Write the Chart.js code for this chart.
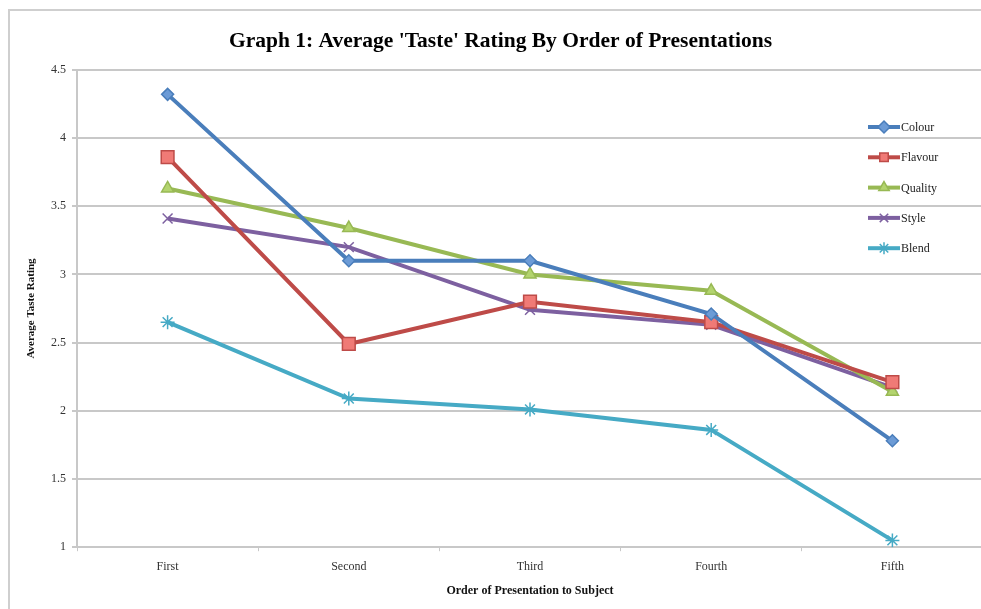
<!DOCTYPE html>
<html>
<head>
<meta charset="utf-8">
<script src="https://cdn.jsdelivr.net/npm/chart.js@4/dist/chart.umd.min.js"></script>
<style>
  html, body { margin: 0; padding: 0; background: #fff; overflow: hidden; }
  #frame { position: absolute; left: 8px; top: 9px; width: 1200px; height: 800px;
           border-left: 2px solid #cfcfcf; border-top: 2px solid #cfcfcf; }
  #wrap { position: absolute; left: 0; top: 0; width: 983px; height: 609px; }
</style>
</head>
<body>
<div id="frame"></div>
<div id="wrap"><canvas id="chart" width="983" height="609"></canvas></div>
<script>
  const categories = ['First', 'Second', 'Third', 'Fourth', 'Fifth'];
  const colour = [4.32, 3.10, 3.10, 2.71, 1.78];
  const flavour = [3.86, 2.49, 2.80, 2.65, 2.21];
  const quality = [3.63, 3.34, 3.00, 2.88, 2.14];
  const style = [3.41, 3.20, 2.74, 2.63, 2.17];
  const blend = [2.65, 2.09, 2.01, 1.86, 1.05];
  const yTicks = [1, 1.5, 2, 2.5, 3, 3.5, 4, 4.5];

  const serif = "'Liberation Serif', 'DejaVu Serif', serif";

  function series(label, data, line, fill, pointStyle, radius) {
    return {
      label, data,
      borderColor: line,
      backgroundColor: fill,
      borderWidth: 4,
      pointStyle,
      pointRadius: radius,
      pointBorderColor: line,
      pointBackgroundColor: fill,
      pointBorderWidth: 1.5,
      tension: 0
    };
  }

  const datasets = [
    series('Colour', colour, '#4A7EBB', '#6C9BD6', 'rectRot', 6),
    series('Flavour', flavour, '#BE4B48', '#F07A76', 'rect', 9),
    series('Quality', quality, '#98B954', '#B3D46E', 'triangle', 7),
    series('Style', style, '#7D60A0', '#9C80C0', 'crossRot', 7),
    series('Blend', blend, '#46AAC5', '#6CC4DC', 'star', 7)
  ];

  // legend drawn inside the plot, like the original
  const innerLegend = {
    id: 'innerLegend',
    afterDraw(chart) {
      const ctx = chart.ctx;
      ctx.save();
      chart.data.datasets.forEach((ds, i) => {
        const y = 127 + i * 30.3;
        ctx.strokeStyle = ds.borderColor;
        ctx.lineWidth = 4;
        ctx.beginPath();
        ctx.moveTo(868, y);
        ctx.lineTo(900, y);
        ctx.stroke();
        ctx.fillStyle = ds.pointBackgroundColor;
        ctx.strokeStyle = ds.pointBorderColor;
        ctx.lineWidth = 1.5;
        Chart.helpers.drawPoint(ctx, {
          pointStyle: ds.pointStyle,
          radius: Math.min(ds.pointRadius, 6),
          rotation: 0,
          borderWidth: 1.5
        }, 884, y);
        ctx.fillStyle = '#222';
        ctx.font = '12px ' + serif;
        ctx.textAlign = 'left';
        ctx.textBaseline = 'middle';
        ctx.fillText(ds.label, 901, y + 1);
      });
      ctx.restore();
    }
  };

  new Chart(document.getElementById('chart'), {
    type: 'line',
    data: { labels: categories, datasets },
    plugins: [innerLegend],
    options: {
      responsive: false,
      animation: false,
      layout: { autoPadding: false, padding: { left: 18, right: 0, top: 0, bottom: 11 } },
      plugins: {
        legend: { display: false },
        tooltip: { enabled: false },
        title: {
          display: true,
          text: "Graph 1: Average 'Taste' Rating By Order of Presentations",
          color: '#000',
          font: { family: serif, size: 21.5, weight: 'bold' },
          padding: { top: 29, bottom: 15 }
        }
      },
      scales: {
        x: {
          offset: true,
          afterFit(scale) { scale.paddingLeft = 0; scale.paddingRight = 0; },
          grid: { offset: true, drawOnChartArea: false, drawTicks: true, tickLength: 4, color: '#c8c8c8', lineWidth: 1 },
          border: { display: true, color: '#c8c8c8', width: 2 },
          ticks: { color: '#333', font: { family: serif, size: 12 }, padding: 8, maxRotation: 0 },
          title: {
            display: true,
            text: 'Order of Presentation to Subject',
            color: '#111',
            font: { family: serif, size: 12, weight: 'bold' },
            padding: { top: 2, bottom: 0 }
          }
        },
        y: {
          min: 1,
          max: 4.5,
          afterBuildTicks(scale) { scale.ticks = yTicks.map(v => ({ value: v })); },
          afterFit(scale) { scale.width = 59; },
          grid: { color: '#c8c8c8', lineWidth: 2, drawTicks: true, tickLength: 5 },
          border: { display: true, color: '#c8c8c8', width: 2 },
          ticks: { color: '#333', font: { family: serif, size: 12 }, padding: 6, callback: v => String(v) },
          title: {
            display: true,
            text: 'Average Taste Rating',
            color: '#111',
            font: { family: serif, size: 11, weight: 'bold' },
            padding: { top: 7, bottom: 0 }
          }
        }
      }
    }
  });
</script>
</body>
</html>
